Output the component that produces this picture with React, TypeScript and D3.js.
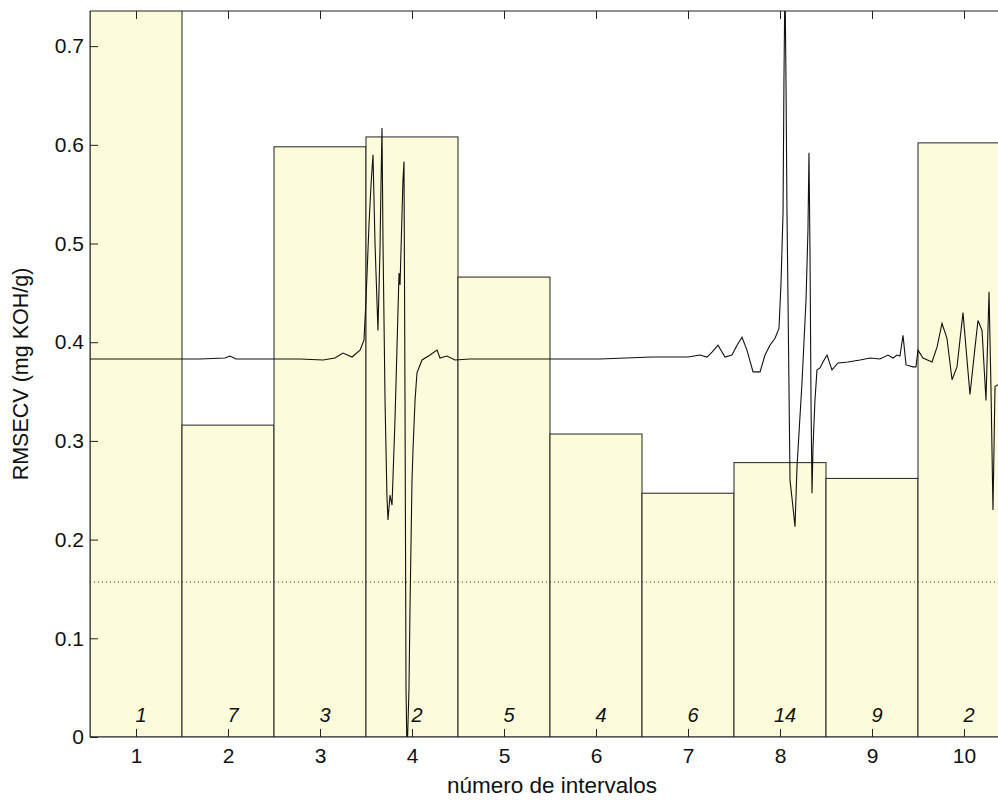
import React, { Component } from 'react';
import * as d3 from 'd3';

// interval numbers, RMSECV per interval and number of latent variables per interval
const intervals = [1, 2, 3, 4, 5, 6, 7, 8, 9, 10];
const rmsecv = [0.8, 0.316, 0.598, 0.608, 0.466, 0.307, 0.247, 0.278, 0.262, 0.602];
const nLVs = [1, 7, 3, 2, 5, 4, 6, 14, 9, 2];
const globalModel = 0.157;
const yTicks = [0, 0.1, 0.2, 0.3, 0.4, 0.5, 0.6, 0.7];

// scaled mean spectrum overlaid on the bars (position in interval units, scaled value)
const spectrumPos = [
  0.5, 1.696, 1.967, 2.022, 2.087, 2.783, 3.033, 3.163, 3.25, 3.348, 3.435, 3.478, 3.5,
  3.533, 3.555, 3.576, 3.598, 3.63, 3.652, 3.663, 3.674, 3.685, 3.707, 3.728, 3.739, 3.761,
  3.783, 3.815, 3.859, 3.87, 3.902, 3.913, 3.924, 3.935, 3.946, 3.967, 3.978, 4.0, 4.011,
  4.033, 4.054, 4.109, 4.196, 4.272, 4.304, 4.38, 4.467, 4.63, 6.043, 6.609, 7.0, 7.13,
  7.207, 7.261, 7.326, 7.402, 7.478, 7.533, 7.587, 7.641, 7.707, 7.783, 7.837, 7.891,
  7.946, 7.989, 8.011, 8.033, 8.043, 8.054, 8.065, 8.076, 8.087, 8.109, 8.141, 8.163,
  8.185, 8.239, 8.283, 8.304, 8.315, 8.326, 8.337, 8.348, 8.359, 8.38, 8.402, 8.435,
  8.467, 8.511, 8.565, 8.63, 8.739, 8.87, 8.978, 9.087, 9.174, 9.228, 9.272, 9.304, 9.337,
  9.37, 9.446, 9.478, 9.5, 9.554, 9.652, 9.707, 9.761, 9.815, 9.87, 9.924, 9.989, 10.065,
  10.12, 10.152, 10.196, 10.239, 10.272, 10.293, 10.315, 10.337, 10.37, 10.446
];
const spectrumVal = [
  0.383, 0.383, 0.384, 0.386, 0.383, 0.383, 0.382, 0.384, 0.389, 0.385, 0.392, 0.402, 0.443,
  0.52, 0.56, 0.59, 0.5, 0.412, 0.493, 0.56, 0.617, 0.5, 0.34, 0.243, 0.22, 0.245,
  0.235, 0.321, 0.47, 0.458, 0.565, 0.583, 0.341, 0.048, -0.02, 0.048, 0.129, 0.26, 0.291,
  0.341, 0.369, 0.382, 0.387, 0.392, 0.384, 0.386, 0.382, 0.383, 0.383, 0.385, 0.385, 0.387,
  0.385, 0.39, 0.397, 0.385, 0.387, 0.397, 0.405, 0.392, 0.37, 0.37, 0.387, 0.397,
  0.404, 0.414, 0.46, 0.531, 0.666, 0.77, 0.666, 0.531, 0.443, 0.26, 0.233, 0.213,
  0.274, 0.359, 0.443, 0.514, 0.592, 0.493, 0.341, 0.247, 0.294, 0.341, 0.372, 0.374,
  0.38, 0.387, 0.372, 0.379, 0.38, 0.382, 0.384, 0.383, 0.387, 0.384, 0.387, 0.386, 0.407,
  0.377, 0.375, 0.375, 0.392, 0.384, 0.38, 0.395, 0.419, 0.404, 0.362, 0.375, 0.43, 0.347,
  0.395, 0.422, 0.412, 0.341, 0.451, 0.355, 0.23, 0.355, 0.357, 0.362
];

const FONT = 'Liberation Sans, Arial, sans-serif';

class IntervalChart extends Component {
  svgRef = React.createRef<SVGSVGElement>();

  componentDidMount() {
    document.body.style.margin = '0';
    this.drawChart();
  }

  drawChart() {
    const width = 998, height = 803;
    const margin = { top: 11, left: 90, bottom: 66 };
    const plotH = height - margin.top - margin.bottom;

    const x = d3.scaleLinear().domain([0.5, 10.5]).range([margin.left, 1010]);
    const y = d3.scaleLinear().domain([0, 0.7356]).range([height - margin.bottom, margin.top]);

    const svg = d3.select(this.svgRef.current);
    svg.selectAll('*').remove();
    svg.attr('width', width).attr('height', height);

    svg.append('rect').attr('width', width).attr('height', height).attr('fill', '#fff');

    svg.append('clipPath').attr('id', 'plotClip')
      .append('rect')
      .attr('x', margin.left).attr('y', margin.top)
      .attr('width', 1010 - margin.left).attr('height', plotH);

    const plot = svg.append('g').attr('clip-path', 'url(#plotClip)');

    plot.selectAll('.bar')
      .data(intervals)
      .enter().append('rect')
      .attr('class', 'bar')
      .attr('x', d => x(d - 0.5))
      .attr('width', d => x(d + 0.5) - x(d - 0.5))
      .attr('y', (d, i) => y(rmsecv[i]))
      .attr('height', (d, i) => y(0) - y(rmsecv[i]))
      .attr('fill', '#fcfcda')
      .attr('stroke', '#222')
      .attr('stroke-width', 1);

    plot.append('line')
      .attr('x1', margin.left).attr('x2', 1010)
      .attr('y1', y(globalModel)).attr('y2', y(globalModel))
      .attr('stroke', '#333')
      .attr('stroke-dasharray', '1,3');

    const line = d3.line<number>()
      .x(d => x(d))
      .y((d, i) => y(spectrumVal[i]));

    plot.append('path')
      .datum(spectrumPos)
      .attr('d', line)
      .attr('fill', 'none')
      .attr('stroke', '#111')
      .attr('stroke-width', 1.1);

    // italic LV counts inside the bars (matlab puts them slightly right of centre)
    plot.selectAll('.lv')
      .data(intervals)
      .enter().append('text')
      .attr('x', d => x(d) + 5)
      .attr('y', y(0) - 15)
      .attr('text-anchor', 'middle')
      .style('font-family', FONT)
      .style('font-style', 'italic')
      .style('font-size', '20px')
      .attr('fill', '#111')
      .text((d, i) => nLVs[i]);

    // box
    svg.append('path')
      .attr('d', `M${margin.left},${y(0)}V${margin.top}H1010M${margin.left},${y(0)}H1010`)
      .attr('fill', 'none')
      .attr('stroke', '#222')
      .attr('stroke-width', 1);

    const font = (g: any) => g.selectAll('text')
      .style('font-family', FONT)
      .style('font-size', '21px')
      .attr('fill', '#111');

    svg.append('g')
      .attr('transform', `translate(0,${y(0)})`)
      .call(d3.axisBottom(x).tickValues(intervals).tickSize(-8).tickPadding(11).tickFormat(d3.format('d')))
      .call(g => g.select('.domain').remove())
      .call(g => g.selectAll('line').attr('stroke', '#222'))
      .call(font);

    svg.append('g')
      .attr('transform', `translate(0,${margin.top})`)
      .call(d3.axisTop(x).tickValues(intervals).tickSize(-8).tickFormat(() => ''))
      .call(g => g.select('.domain').remove())
      .call(g => g.selectAll('line').attr('stroke', '#222'));

    svg.append('g')
      .attr('transform', `translate(${margin.left},0)`)
      .call(d3.axisLeft(y).tickValues(yTicks).tickSize(-8).tickPadding(6).tickFormat(d => d === 0 ? '0' : d3.format('.1f')(d as number)))
      .call(g => g.select('.domain').remove())
      .call(g => g.selectAll('line').attr('stroke', '#222'))
      .call(font);

    svg.append('text')
      .attr('x', 552)
      .attr('y', 793)
      .attr('text-anchor', 'middle')
      .style('font-family', FONT)
      .style('font-size', '22.5px')
      .attr('fill', '#111')
      .text('número de intervalos');

    svg.append('text')
      .attr('transform', `translate(28,${(margin.top + y(0)) / 2}) rotate(-90)`)
      .attr('text-anchor', 'middle')
      .style('font-family', FONT)
      .style('font-size', '21.5px')
      .attr('fill', '#111')
      .text('RMSECV (mg KOH/g)');
  }

  render() {
    return <svg ref={this.svgRef} style={{ display: 'block' }}></svg>;
  }
}

export default function App() {
  return <IntervalChart />;
}
